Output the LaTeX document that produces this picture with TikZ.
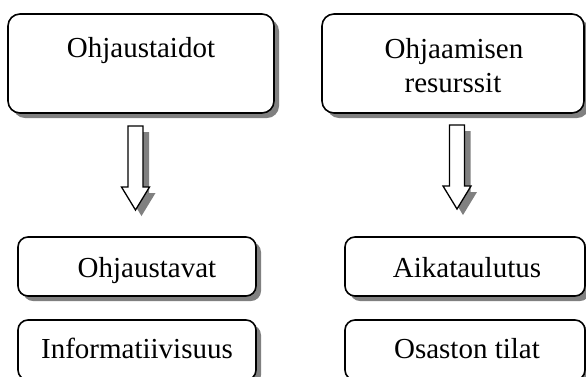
\documentclass[tikz,border=0pt]{standalone}
\usepackage{fontspec}
\setmainfont{Liberation Serif}
\usetikzlibrary{shadows}
\definecolor{shadowgray}{HTML}{808080}
\begin{document}
\begin{tikzpicture}[x=1pt,y=-1pt,
  box/.style={draw=black, line width=1.6pt, rounded corners=12pt, fill=white, inner sep=0pt,
    drop shadow={shadow xshift=5pt, shadow yshift=-5pt, fill=shadowgray, opacity=1}},
  smallbox/.style={box, rounded corners=10pt},
  lbl/.style={font=\fontsize{29}{34}\selectfont, anchor=base, inner sep=0pt},
  blockarrow/.pic={
    \fill[shadowgray] (-1.5,6) -- (13.5,6) -- (13.5,67) -- (20,67) -- (6,90) -- (-8,67) -- (-1.5,67) -- cycle;
    \draw[fill=white, line width=1.3pt, line join=miter] (-7.5,0) -- (7.5,0) -- (7.5,61) -- (14,61) -- (0,84) -- (-14,61) -- (-7.5,61) -- cycle;
  }]
\clip (0,0) rectangle (586,376);
\fill[white] (0,0) rectangle (586,376);

% top boxes
\node[box, minimum width=266pt, minimum height=99pt] (topL) at (141,63.5) {};
\node[box, minimum width=262pt, minimum height=99pt] (topR) at (453,63.5) {};
\node[lbl] (tL) at (141,57) {Ohjaustaidot};
\node[lbl] (tR1) at (454,58) {Ohjaamisen};
\node[lbl] (tR2) at (453,92) {resurssit};

% arrows
\pic (arrL) at (135.5,126) {blockarrow};
\pic (arrR) at (457,125) {blockarrow};

% bottom boxes
\node[smallbox, minimum width=238pt, minimum height=59pt] (bL1) at (137,266.5) {};
\node[smallbox, minimum width=238pt, minimum height=60pt] (bL2) at (137,350) {};
\node[smallbox, minimum width=240pt, minimum height=59pt] (bR1) at (465,266.5) {};
\node[smallbox, minimum width=240pt, minimum height=60pt] (bR2) at (465,350) {};
\node[lbl] (b1) at (147,277) {Ohjaustavat};
\node[lbl] (b2) at (137,358) {Informatiivisuus};
\node[lbl] (b3) at (467,277) {Aikataulutus};
\node[lbl] (b4) at (467,358) {Osaston tilat};
\end{tikzpicture}
\end{document}
